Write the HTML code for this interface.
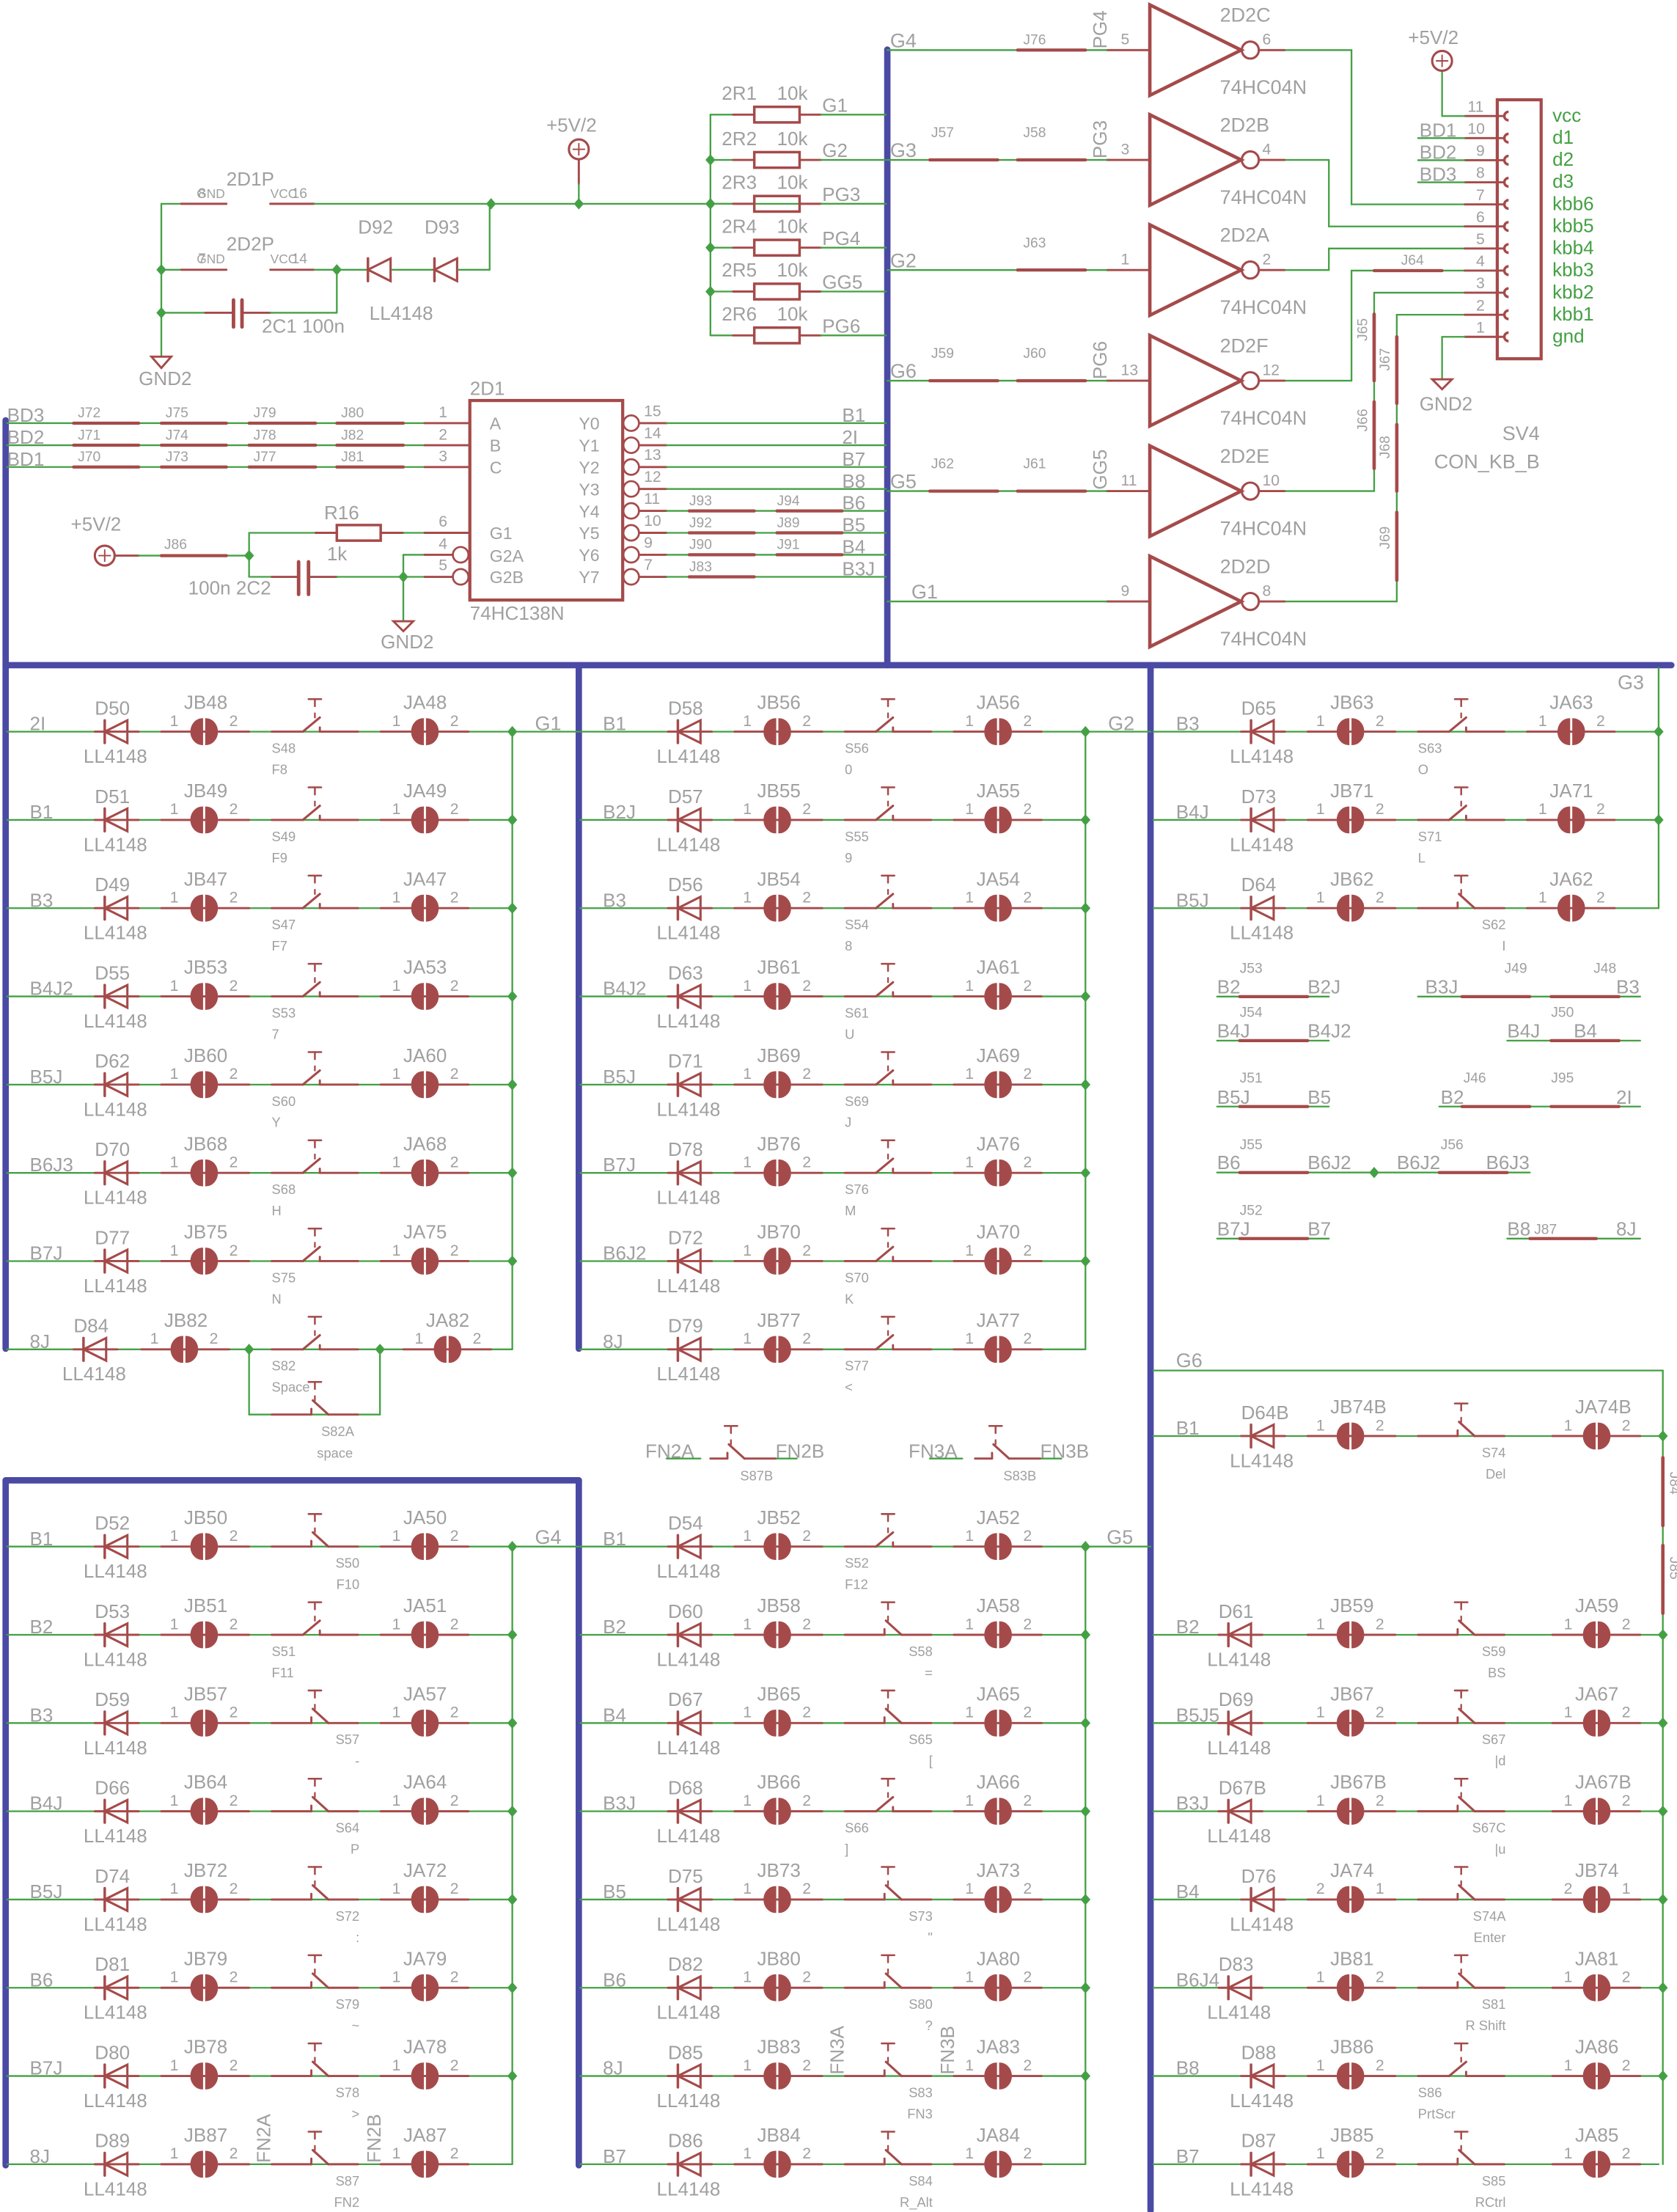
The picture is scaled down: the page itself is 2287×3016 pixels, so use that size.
<!DOCTYPE html>
<html><head><meta charset="utf-8"><style>
html,body{margin:0;padding:0;background:#fff;}
svg{display:block;}
text{font-family:"Liberation Sans",sans-serif;}
</style></head><body>
<svg id="s" xmlns="http://www.w3.org/2000/svg" width="2287" height="3016" viewBox="0 0 1185 1563" preserveAspectRatio="none"></svg>
<script>
const R='#a54a4a',G='#44a044',B='#4a4aa4',T='#a0a0a0';
let s='';
function esc(t){return String(t).replace(/&/g,'&amp;').replace(/</g,'&lt;').replace(/>/g,'&gt;').replace(/"/g,'&quot;');}
function L(x1,y1,x2,y2,c,w){s+=`<line x1="${x1}" y1="${y1}" x2="${x2}" y2="${y2}" stroke="${c}" stroke-width="${w||1}" stroke-linecap="round"/>`;}
function P(d,c,w,f){s+=`<path d="${d}" stroke="${c}" stroke-width="${w||1}" fill="${f||'none'}"/>`;}
function tx(x,y,t,fs,c,ex){s+=`<text x="${x}" y="${y}" font-size="${fs||13.5}" fill="${c||T}" ${ex||''}>${esc(t)}</text>`;}
function rt(x,y,t,fs,ang){s+=`<text x="${x}" y="${y}" font-size="${fs||13.5}" fill="${T}" transform="rotate(${ang||-90} ${x} ${y})">${esc(t)}</text>`;}
function dot(x,y){s+=`<path d="M${x-3.5},${y} L${x},${y-4} L${x+3.5},${y} L${x},${y+4} Z" fill="${G}"/>`;}
function diode(x,y){P(`M${x},${y} L${x+16},${y-8} L${x+16},${y+8} Z`,R,1.6);L(x,y-8,x,y+8,R,1.8);}
function jmp(x,y){P(`M${x-1},${y-9} A8 9 0 0 0 ${x-1},${y+9} Z`,R,0,R);P(`M${x+1.5},${y-9} A8 9 0 0 1 ${x+1.5},${y+9} Z`,R,0,R);}
function sw(x,y,mir){ // x = bx
  L(x+218,y-23,x+227,y-23,R,1.3);L(x+222.5,y-23,x+222.5,y-18,R,1.3);
  if(!mir){L(x+192,y,x+214,y,R,1.5);L(x+214,y,x+226,y-10,R,1.6);L(x+222.5,y-13,x+222.5,y-10,R,1.2);L(x+226,y-3,x+226,y,R,1.5);L(x+226,y,x+253,y,R,1.5);}
  else{L(x+192,y,x+220,y,R,1.5);L(x+220,y,x+220,y-4,R,1.5);L(x+221,y-10,x+232,y,R,1.6);L(x+222.5,y-13,x+222.5,y-10,R,1.2);L(x+232,y,x+253,y,R,1.5);}
}
function row(bx,y,o){
  const dx=bx+(o.dx!=null?o.dx:74), jb=bx+(o.jb||144), ja=bx+(o.ja||300), vx=bx+362;
  L(bx+5,y,vx,y,G,1.2);
  L(dx-7,y,dx+24,y,R,1.5);diode(dx,y);
  L(jb-30,y,jb+32,y,R,1.5);jmp(jb,y);
  sw(bx,y,o.m);
  L(ja-31,y,ja+31,y,R,1.5);jmp(ja,y);
  tx(bx+21,y-1,o.l,13.5);
  tx(dx-7,y-12,o.d,13.5);tx(dx-15,y+22,'LL4148',13.5);
  tx(jb-14,y-16,o.jbn,13.5);tx(jb-24,y-4,o.sw?'2':'1',11);tx(jb+18,y-4,o.sw?'1':'2',11);
  tx(ja-15,y-16,o.jan,13.5);tx(ja-23,y-4,o.sw?'2':'1',11);tx(ja+18,y-4,o.sw?'1':'2',11);
  if(o.m){tx(bx+254,y+15,o.s,9.5,T,'text-anchor="end"');tx(bx+254,y+30,o.k,9.5,T,'text-anchor="end"');}
  else{tx(bx+192,y+15,o.s,9.5);tx(bx+192,y+30,o.k,9.5);}
}
function block(bx,ys,rows,extra){rows.forEach((r,i)=>{let o={l:r[0],d:r[1],jbn:r[2],s:r[3],k:r[4],jan:r[5],m:r[6]};Object.assign(o,r[7]||{});row(bx,ys[i],o);});}
const Y1=[],Y2=[];for(let i=0;i<8;i++){Y1.push(517+i*62.35);Y2.push(1092.8+i*62.35);}

// ---- blue buses
function BL(x1,y1,x2,y2){L(x1,y1,x2,y2,B,4.5);}
BL(627,35,627,470);BL(4,470,1181,470);BL(4,297,4,953);BL(409,470,409,953);BL(813,470,813,1562);
BL(4,1046,409,1046);BL(4,1046,4,1530);BL(409,1046,409,1530);

// ---- block 1 (G1)
block(0,Y1,[
 ['2I','D50','JB48','S48','F8','JA48'],['B1','D51','JB49','S49','F9','JA49'],['B3','D49','JB47','S47','F7','JA47'],
 ['B4J2','D55','JB53','S53','7','JA53'],['B5J','D62','JB60','S60','Y','JA60'],['B6J3','D70','JB68','S68','H','JA68'],
 ['B7J','D77','JB75','S75','N','JA75'],['8J','D84','JB82','S82','Space','JA82',false,{dx:59,jb:130,ja:316}]]);
L(362,Y1[0],362,Y1[7],G,1.2);for(let i=0;i<7;i++)dot(362,Y1[i]);L(362,Y1[0],409,Y1[0],G,1.2);tx(378,Y1[0]-1,'G1',14);
// S82A parallel
{const y=Y1[7];dot(176,y);dot(268.5,y);L(176,y,176,999.5,G,1.2);L(268.5,y,268.5,999.5,G,1.2);L(176,999.5,268.5,999.5,G,1.2);
 L(192,999.5,220,999.5,R,1.5);L(220,999.5,220,995.5,R,1.5);L(221,989.5,232,999.5,R,1.6);L(232,999.5,253,999.5,R,1.5);
 L(218,976.5,227,976.5,R,1.3);L(222.5,976.5,222.5,981.5,R,1.3);L(222.5,986.5,222.5,989.5,R,1.2);
 tx(227,1014.7,'S82A',9.5);tx(224,1030,'space',9.5);}

// ---- block 2 (G2)
block(405,Y1,[
 ['B1','D58','JB56','S56','0','JA56'],['B2J','D57','JB55','S55','9','JA55'],['B3','D56','JB54','S54','8','JA54'],
 ['B4J2','D63','JB61','S61','U','JA61'],['B5J','D71','JB69','S69','J','JA69'],['B7J','D78','JB76','S76','M','JA76'],
 ['B6J2','D72','JB70','S70','K','JA70'],['8J','D79','JB77','S77','<','JA77']]);
L(767,Y1[0],767,Y1[7],G,1.2);for(let i=0;i<7;i++)dot(767,Y1[i]);L(767,Y1[0],813,Y1[0],G,1.2);tx(783,Y1[0]-1,'G2',14);

// ---- block 3 (G3)
block(810,Y1.slice(0,3),[
 ['B3','D65','JB63','S63','O','JA63'],['B4J','D73','JB71','S71','L','JA71'],['B5J','D64','JB62','S62','I','JA62',true]]);
L(1172,472,1172,Y1[2],G,1.2);dot(1172,Y1[0]);dot(1172,Y1[1]);tx(1143,487,'G3',14);

// ---- jumper area
function jl(x1,x2,y,segs){L(x1,y,x2,y,G,1.2);segs.forEach(a=>L(a[0],y,a[1],y,R,2.2));}
jl(860,939,704.2,[[876,924]]);tx(876,687.4,'J53',10);tx(860,702,'B2',13.5);tx(924,702,'B2J',13.5);
jl(1002,1159,704.2,[[1033,1081],[1096,1144]]);tx(1063,687.4,'J49',10);tx(1126,687.4,'J48',10);tx(1007,702,'B3J',13.5);tx(1142,702,'B3',13.5);
jl(860,939,735.3,[[876,924]]);tx(876,718.5,'J54',10);tx(860,733,'B4J',13.5);tx(924,733,'B4J2',13.5);
jl(1065,1159,735.3,[[1096,1144]]);tx(1096,718.5,'J50',10);tx(1065,733,'B4J',13.5);tx(1112,733,'B4',13.5);
jl(860,939,781.9,[[876,924]]);tx(876,765,'J51',10);tx(860,780,'B5J',13.5);tx(924,780,'B5',13.5);
jl(1017,1159,781.9,[[1033,1081],[1096,1144]]);tx(1034,765,'J46',10);tx(1096,765,'J95',10);tx(1018,780,'B2',13.5);tx(1142,780,'2I',13.5);
jl(860,1081,828.5,[[876,924],[1017,1065]]);dot(971,828.5);tx(876,812,'J55',10);tx(1018,812,'J56',10);tx(860,826,'B6',13.5);tx(924,826,'B6J2',13.5);tx(987,826,'B6J2',13.5);tx(1050,826,'B6J3',13.5);
jl(860,939,875.2,[[876,924]]);tx(876,858.5,'J52',10);tx(860,873,'B7J',13.5);tx(924,873,'B7',13.5);
jl(1065,1159,875.2,[[1081,1128]]);tx(1084,872,'J87',10);tx(1065,873,'B8',13.5);tx(1142,873,'8J',13.5);

// ---- FN switches
function fsw(x,y){L(x-12,y,x,y,R,1.5);L(x,y,x,y-4,R,1.5);L(x+1,y-10,x+12,y,R,1.6);L(x+12,y,x+34,y,R,1.5);L(x-2,y-23,x+7,y-23,R,1.3);L(x+2.5,y-23,x+2.5,y-18,R,1.3);L(x+2.5,y-13,x+2.5,y-10,R,1.2);}
L(471,1030.6,495,1030.6,G,1.2);L(548,1030.6,563,1030.6,G,1.2);fsw(514,1030.6);tx(456,1030,'FN2A',13.5);tx(548,1030,'FN2B',13.5);tx(523,1046,'S87B',9.5);
L(657,1030.6,680,1030.6,G,1.2);L(735,1030.6,750,1030.6,G,1.2);fsw(701,1030.6);tx(642,1030,'FN3A',13.5);tx(735,1030,'FN3B',13.5);tx(709,1046,'S83B',9.5);

// ---- block 4 (G4)
block(0,Y2,[
 ['B1','D52','JB50','S50','F10','JA50',true],['B2','D53','JB51','S51','F11','JA51'],['B3','D59','JB57','S57','-','JA57',true],
 ['B4J','D66','JB64','S64','P','JA64',true],['B5J','D74','JB72','S72',':','JA72',true],['B6','D81','JB79','S79','~','JA79',true],
 ['B7J','D80','JB78','S78','>','JA78',true],['8J','D89','JB87','S87','FN2','JA87',true]]);
L(362,Y2[0],362,Y2[7],G,1.2);for(let i=0;i<7;i++)dot(362,Y2[i]);L(362,Y2[0],409,Y2[0],G,1.2);tx(378,Y2[0]-2,'G4',14);
rt(191,Y2[7]-1,'FN2A',13.5);rt(269,Y2[7]-1,'FN2B',13.5);

// ---- block 5 (G5)
block(405,Y2,[
 ['B1','D54','JB52','S52','F12','JA52'],['B2','D60','JB58','S58','=','JA58',true],['B4','D67','JB65','S65','[','JA65',true],
 ['B3J','D68','JB66','S66',']','JA66'],['B5','D75','JB73','S73','"','JA73',true],['B6','D82','JB80','S80','?','JA80',true],
 ['8J','D85','JB83','S83','FN3','JA83',true],['B7','D86','JB84','S84','R_Alt','JA84',true]]);
L(767,Y2[0],767,Y2[7],G,1.2);for(let i=0;i<7;i++)dot(767,Y2[i]);L(767,Y2[0],813,Y2[0],G,1.2);tx(782,Y2[0]-2,'G5',14);
rt(596,Y2[6]-1,'FN3A',13.5);rt(674,Y2[6]-1,'FN3B',13.5);

// ---- block 6 (G6)
const Y6=[1014.7,Y2[1],Y2[2],Y2[3],Y2[4],Y2[5],Y2[6],Y2[7]];
block(810,Y6,[
 ['B1','D64B','JB74B','S74','Del','JA74B',true,{ja:318}],['B2','D61','JB59','S59','BS','JA59',true,{dx:58,ja:318}],
 ['B5J5','D69','JB67','S67','|d','JA67',true,{dx:58,ja:318}],['B3J','D67B','JB67B','S67C','|u','JA67B',true,{dx:58,ja:318}],
 ['B4','D76','JA74','S74A','Enter','JB74',true,{ja:318,sw:1}],['B6J4','D83','JB81','S81','R Shift','JA81',true,{dx:58,ja:318}],
 ['B8','D88','JB86','S86','PrtScr','JA86',false,{ja:318}],['B7','D87','JB85','S85','RCtrl','JA85',true,{ja:318}]]);
L(815,968.4,1175,968.4,G,1.2);tx(831,966,'G6',14);
L(1175,968.4,1175,Y6[7],G,1.2);for(let i=0;i<7;i++)dot(1175,Y6[i]);
L(1175,1030,1175,1078,R,2.4);L(1175,1092,1175,1140,R,2.4);
rt(1180,1040,'J84',10,90);rt(1180,1100,'J85',10,90);

// ---- top left power
L(114,144,128,144,G,1.2);L(128,144,160,144,R,1.5);L(191,144,222,144,R,1.5);L(222,144,626,144,G,1.2);
dot(347,144);dot(409,144);dot(502,144);
tx(160,131,'2D1P',13.5);tx(139,140,'GND',9);tx(140,140,'8',10);tx(191,140,'VCC',9);tx(206,140,'16',10);
L(114,190.6,128,190.6,G,1.2);L(128,190.6,160,190.6,R,1.5);L(191,190.6,222,190.6,R,1.5);L(222,190.6,260,190.6,G,1.2);dot(238,190.6);dot(114,190.6);
tx(160,177,'2D2P',13.5);tx(139,186,'GND',9);tx(140,186,'7',10);tx(191,186,'VCC',9);tx(206,186,'14',10);
diode(260,190.6);L(277,190.6,307,190.6,G,1.2);diode(307,190.6);L(324,190.6,346,190.6,G,1.2);L(346,190.6,346,144,G,1.2);
tx(253,165,'D92',13.5);tx(300,165,'D93',13.5);tx(261,226,'LL4148',13.5);
L(114,144,114,252,G,1.2);dot(114,221);
L(114,221,145,221,G,1.2);L(145,221,165,221,R,1.5);L(165,212,165,231,R,2.5);L(171,212,171,231,R,2.5);L(171,221,191,221,R,1.5);L(191,221,238,221,G,1.2);L(238,221,238,190.6,G,1.2);
tx(185,235,'2C1 100n',13.5);
P('M107,252 L121,252 L114,260 Z',R,1.5);tx(98,272,'GND2',13.5);
L(409,113,409,130,R,1.5);L(409,130,409,144,G,1.2);
s+=`<circle cx="409" cy="105.5" r="7" stroke="${R}" stroke-width="1.6" fill="none"/>`;L(405,105.5,413,105.5,R,1);L(409,101.5,409,109.5,R,1);tx(386,93,'+5V/2',13.5);

// resistors
const RY=[81,113,144,175,206,237],RN=['2R1','2R2','2R3','2R4','2R5','2R6'],RL=['G1','G2','PG3','PG4','GG5','PG6'];
L(502,81,502,237,G,1.2);
RY.forEach((y,i)=>{L(502,y,518,y,G,1.2);L(518,y,533,y,R,1.5);s+=`<rect x="533" y="${y-5.5}" width="32" height="11" stroke="${R}" stroke-width="1.8" fill="none"/>`;L(565,y,580,y,R,1.5);L(580,y,626,y,G,1.2);
 tx(510,y-10.5,RN[i],13.5);tx(549,y-10.5,'10k',13.5);tx(581,y-2,RL[i],13.5);if(i>0&&i<5)dot(502,y);});

// ---- 74HC138
s+=`<rect x="332" y="283" width="108" height="141" stroke="${R}" stroke-width="2.2" fill="none"/>`;
tx(332,279,'2D1',13.5);tx(332,438,'74HC138N',13.5);
const IN=[[299,'BD3','1','A',['J72','J75','J79','J80']],[314.6,'BD2','2','B',['J71','J74','J78','J82']],[330,'BD1','3','C',['J70','J73','J77','J81']]];
IN.forEach(a=>{const y=a[0];L(5,y,300,y,G,1.2);[[52,98],[114,160],[176,223],[238,285]].forEach((j,k)=>{L(j[0],y,j[1],y,R,2.2);tx(j[0]+3,y-4,a[4][k],10);});
 L(300,y,332,y,R,1.5);tx(5,y-1,a[1],13.5);tx(310,y-4,a[2],11);tx(346,y+4.5,a[3],12);});
const OY=[299,314.6,330,345.5,361,376.5,392,407.6],ON=['15','14','13','12','11','10','9','7'],OL=['B1','2I','B7','B8','B6','B5','B4','B3J'];
const OJ=[null,null,null,null,['J93','J94'],['J92','J89'],['J90','J91'],['J83']];
OY.forEach((y,i)=>{s+=`<circle cx="446" cy="${y}" r="5.5" stroke="${R}" stroke-width="1.4" fill="none"/>`;L(451.5,y,471,y,R,1.5);L(471,y,626,y,G,1.2);
 tx(455,y-5,ON[i],11);tx(409,y+4.5,'Y'+i,12);tx(595,y-1,OL[i],13.5);
 if(OJ[i]){OJ[i].forEach((n,k)=>{const x1=k?549:487;L(x1,y,x1+46,y,R,2.2);tx(x1,y-4,n,10);});}});
tx(346,381,'G1',12);tx(346,397,'G2A',12);tx(346,412,'G2B',12);
// enable section
s+=`<circle cx="74" cy="392.6" r="7" stroke="${R}" stroke-width="1.6" fill="none"/>`;L(70,392.6,78,392.6,R,1);L(74,388.6,74,396.6,R,1);tx(50,375,'+5V/2',13.5);
L(81,392.6,98,392.6,R,1.5);L(98,392.6,176,392.6,G,1.2);L(114,392.6,160,392.6,R,2.2);tx(116,388,'J86',10);dot(176,392.6);
L(176,392.6,176,376.5,G,1.2);L(176,376.5,223,376.5,G,1.2);L(223,376.5,238,376.5,R,1.5);
s+=`<rect x="238" y="371" width="31" height="11" stroke="${R}" stroke-width="1.8" fill="none"/>`;L(269,376.5,285,376.5,R,1.5);L(285,376.5,300,376.5,G,1.2);L(300,376.5,332,376.5,R,1.5);
tx(229,367,'R16',13.5);tx(231,396,'1k',13.5);tx(310,372,'6',11);
L(176,392.6,176,407.6,G,1.2);L(176,407.6,192,407.6,G,1.2);L(192,407.6,211,407.6,R,1.5);L(211,397,211,420,R,2.5);L(218,397,218,420,R,2.5);L(218,407.6,238,407.6,R,1.5);L(238,407.6,300,407.6,G,1.2);L(300,407.6,320,407.6,R,1.5);
dot(285,407.6);L(285,392,285,439,G,1.2);L(285,392,300,392,G,1.2);L(300,392,320,392,R,1.5);
s+=`<circle cx="325.5" cy="392" r="5.5" stroke="${R}" stroke-width="1.4" fill="none"/><circle cx="325.5" cy="407.6" r="5.5" stroke="${R}" stroke-width="1.4" fill="none"/>`;
tx(310,388,'4',11);tx(310,403,'5',11);tx(133,420,'100n 2C2',13.5);
P('M278,439 L292,439 L285,446 Z',R,1.5);tx(269,458,'GND2',13.5);

// ---- gates
const GY=[35.4,113,190.8,269,347,425],GN=['2D2C','2D2B','2D2A','2D2F','2D2E','2D2D'],GI=['5','3','1','13','11','9'],GO=['6','4','2','12','10','8'];
const GL=['G4','G3','G2','G6','G5','G1'],GP=['PG4','PG3','','PG6','GG5',''];
const GJ=[[[719,767,'J76',723,-4]],[[657,705,'J57',658,-16],[719,767,'J58',723,-16]],[[719,767,'J63',723,-16]],[[657,705,'J59',658,-16],[719,767,'J60',723,-16]],[[657,705,'J62',658,-16],[719,767,'J61',723,-16]],[]];
GY.forEach((y,i)=>{
 P(`M812.5,${y-32} L812.5,${y+32} L877,${y} Z`,R,2.4);
 s+=`<circle cx="883.5" cy="${y}" r="6" stroke="${R}" stroke-width="1.6" fill="none"/>`;
 L(889.5,y,908,y,R,1.5);L(782,y,812,y,R,1.5);L(627,y,782,y,G,1.2);
 GJ[i].forEach(j=>{L(j[0],y,j[1],y,R,2.2);tx(j[3],y+j[4],j[2],10);});
 tx(i==5?644:629,y-2,GL[i],14);if(GP[i])rt(782,y-1,GP[i],13.5);
 tx(792,y-4,GI[i],11);tx(892,y-4,GO[i],11);
 tx(862,y-20,GN[i],14);tx(862,y+31,'74HC04N',14);
});
// outputs
function gp(pts){let d='M'+pts.map(p=>p.join(',')).join(' L');P(d,G,1.2);}
const PY=k=>82+(11-k)*15.6; // pin k y
gp([[908,35.4],[955,35.4],[955,PY(7)],[1035,PY(7)]]);
gp([[908,113],[939,113],[939,PY(6)],[1035,PY(6)]]);
gp([[908,190.8],[939,190.8],[939,PY(5)],[1035,PY(5)]]);
gp([[908,269],[955,269],[955,PY(4)],[1035,PY(4)]]);L(971,PY(4),1019,PY(4),R,2.2);tx(990,PY(4)-4,'J64',10);
gp([[908,347],[971,347],[971,PY(3)],[1035,PY(3)]]);L(971,222,971,269,R,2.4);L(971,284,971,331,R,2.4);rt(966,241,'J65',10);rt(966,305,'J66',10);
gp([[908,425],[987,425],[987,PY(2)],[1035,PY(2)]]);L(987,238,987,285,R,2.4);L(987,300,987,347,R,2.4);L(987,362,987,410,R,2.4);rt(982,262,'J67',10);rt(982,324,'J68',10);rt(982,388,'J69',10);
// SV4
s+=`<rect x="1058" y="70.5" width="31" height="183" stroke="${R}" stroke-width="2.2" fill="none"/>`;
const SL=['gnd','kbb1','kbb2','kbb3','kbb4','kbb5','kbb6','d3','d2','d1','vcc'];
for(let k=1;k<=11;k++){const y=PY(k);L(1035,y,1062,y,R,1.5);P(`M1066,${y-3} A3 3 0 0 0 1066,${y+3}`,R,1.8);tx(k>=10?1037:1043,y-3,String(k),11);tx(1097,y+4,SL[k-1],13.5,G);}
L(1019,50,1019,PY(11),G,1.2);L(1019,PY(11),1035,PY(11),G,1.2);
s+=`<circle cx="1019" cy="43" r="7" stroke="${R}" stroke-width="1.6" fill="none"/>`;L(1015,43,1023,43,R,1);L(1019,39,1019,47,R,1);tx(995,31,'+5V/2',13.5);
[['BD1',10],['BD2',9],['BD3',8]].forEach(a=>{L(1002,PY(a[1]),1035,PY(a[1]),G,1.2);tx(1003,PY(a[1])-1,a[0],13.5);});
L(1019,PY(1),1035,PY(1),G,1.2);L(1019,PY(1),1019,268,G,1.2);P('M1012,268 L1026,268 L1019,275 Z',R,1.5);tx(1003,290,'GND2',13.5);
tx(1088,311,'SV4',14,T,'text-anchor="end"');tx(1088,331,'CON_KB_B',14,T,'text-anchor="end"');

document.getElementById('s').innerHTML=s;
</script>
</body></html>
